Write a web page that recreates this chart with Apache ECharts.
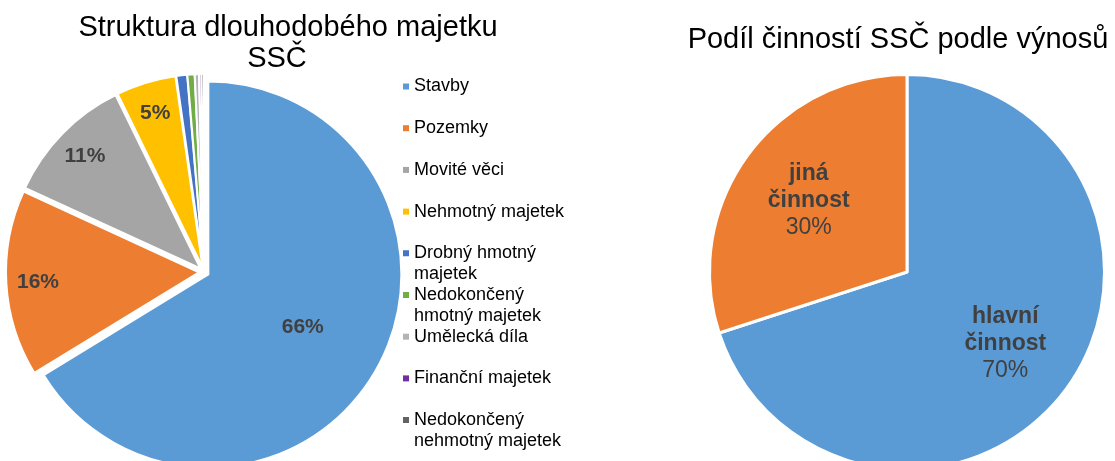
<!DOCTYPE html>
<html>
<head>
<meta charset="utf-8">
<script src="https://cdn.jsdelivr.net/npm/echarts@6/dist/echarts.min.js"></script>
<style>
html,body{margin:0;padding:0;background:#fff;}
#chart{width:1115px;height:461px;}
</style>
</head>
<body>
<div id="chart"></div>
<script>
// ---- data ----
const assetNames = ['Stavby', 'Pozemky', 'Movité věci', 'Nehmotný majetek', 'Drobný hmotný majetek',
  'Nedokončený hmotný majetek', 'Umělecká díla', 'Finanční majetek', 'Nedokončený nehmotný majetek'];
const assetShares = [66.3, 15.6, 10.9, 5.0, 0.9, 0.6, 0.35, 0.2, 0.2];
const assetLegendLabels = ['Stavby', 'Pozemky', 'Movité věci', 'Nehmotný majetek', 'Drobný hmotný\nmajetek',
  'Nedokončený\nhmotný majetek', 'Umělecká díla', 'Finanční majetek', 'Nedokončený\nnehmotný majetek'];
const assetColors = ['#5B9BD5', '#ED7D31', '#A5A5A5', '#FFC000', '#4472C4', '#70AD47', '#B4B4B4', '#7030A0', '#636363'];

const activityNames = ['hlavní činnost', 'jiná činnost'];
const activityShares = [70, 30];
const activityColors = ['#5B9BD5', '#ED7D31'];

const titleLeft1 = 'Struktura dlouhodobého majetku';
const titleLeft2 = 'SSČ';
const titleRight = 'Podíl činností SSČ podle výnosů';

// ---- layout ----
const FONT = "'Liberation Sans', Arial, sans-serif";
const leftCenter = [204, 272];
const leftR = 193;
const rightCenter = [907, 272];
const rightR = 197.5;
const explode = 5;

const chart = echarts.init(document.getElementById('chart'), null, {renderer: 'canvas'});

const assetData = assetNames.map((n, i) => ({
  name: n, value: assetShares[i], selected: true,
  itemStyle: {color: assetColors[i]}
}));
const assetLabelData = assetNames.map((n, i) => ({
  name: n, value: assetShares[i], selected: true
}));

const legends = assetNames.map((n, i) => {
  const wrapped = assetLegendLabels[i].indexOf('\n') >= 0;
  return {
    data: [n],
    orient: 'vertical',
    left: 403,
    top: 76 + i * 41.7,
    padding: 0,
    selectedMode: false,
    itemWidth: 6,
    itemHeight: wrapped ? 42 : 6,
    icon: wrapped ? 'path://M0,7.5h6v6h-6z M0,0h0.01v0.01h-0.01z M0,42h0.01v0.01h-0.01z' : 'rect',
    itemStyle: {borderWidth: 0},
    formatter: () => assetLegendLabels[i],
    textStyle: {fontFamily: FONT, fontSize: 18, lineHeight: 21, color: '#000'}
  };
});

const leftLabelCommon = {
  show: true, position: 'inside', fontFamily: FONT, fontSize: 21, fontWeight: 'bold', color: '#404040'
};

const option = {
  animation: false,
  backgroundColor: '#fff',
  title: [
    {text: titleLeft1, left: 288, top: 13, textAlign: 'center', padding: 0,
      textStyle: {fontFamily: FONT, fontSize: 29, fontWeight: 'normal', color: '#000'}},
    {text: titleLeft2, left: 277, top: 44, textAlign: 'center', padding: 0,
      textStyle: {fontFamily: FONT, fontSize: 29, fontWeight: 'normal', color: '#000'}},
    {text: titleRight, left: 898, top: 25, textAlign: 'center', padding: 0,
      textStyle: {fontFamily: FONT, fontSize: 29, fontWeight: 'normal', color: '#000'}}
  ],
  legend: legends,
  series: [
    {
      type: 'pie', name: 'majetek', center: leftCenter, radius: [0, leftR],
      startAngle: 90, clockwise: true, selectedMode: 'multiple', selectedOffset: explode,
      itemStyle: {borderColor: '#fff', borderWidth: 2},
      select: {itemStyle: {borderColor: '#fff', borderWidth: 2}, label: {show: false}},
      emphasis: {disabled: true},
      label: {show: false}, labelLine: {show: false},
      data: assetData
    },
    {
      // label ring for the large slice
      type: 'pie', name: 'majetekLabelA', center: leftCenter, radius: [leftR * 0.09, leftR],
      startAngle: 90, clockwise: true, selectedMode: 'multiple', selectedOffset: explode,
      silent: true, z: 5,
      itemStyle: {color: 'transparent', borderWidth: 0},
      select: {itemStyle: {color: 'transparent', borderWidth: 0}},
      emphasis: {disabled: true},
      labelLine: {show: false},
      label: Object.assign({}, leftLabelCommon, {
        formatter: p => p.dataIndex === 0 ? Math.round(p.percent) + '%' : ''
      }),
      data: assetLabelData
    },
    {
      // label ring for the other slices
      type: 'pie', name: 'majetekLabelB', center: leftCenter, radius: [leftR * 0.64, leftR],
      startAngle: 90, clockwise: true, selectedMode: 'multiple', selectedOffset: explode,
      silent: true, z: 5,
      itemStyle: {color: 'transparent', borderWidth: 0},
      select: {itemStyle: {color: 'transparent', borderWidth: 0}},
      emphasis: {disabled: true},
      labelLine: {show: false},
      label: Object.assign({}, leftLabelCommon, {
        formatter: p => (p.dataIndex > 0 && p.percent >= 2) ? Math.round(p.percent) + '%' : ''
      }),
      data: assetLabelData
    },
    {
      type: 'pie', name: 'cinnost', center: rightCenter, radius: [0, rightR],
      startAngle: 90, clockwise: true,
      itemStyle: {borderColor: '#fff', borderWidth: 3},
      emphasis: {disabled: true},
      label: {show: false}, labelLine: {show: false},
      data: activityNames.map((n, i) => ({name: n, value: activityShares[i], itemStyle: {color: activityColors[i]}}))
    },
    {
      type: 'pie', name: 'cinnostLabel', center: rightCenter, radius: [rightR * 0.2, rightR],
      startAngle: 90, clockwise: true, silent: true, z: 5,
      itemStyle: {color: 'transparent', borderWidth: 0},
      emphasis: {disabled: true},
      labelLine: {show: false},
      label: {
        show: true, position: 'inside',
        formatter: p => p.name.split(' ').map(w => '{n|' + w + '}').join('\n') + '\n{p|' + Math.round(p.percent) + '%}',
        rich: {
          n: {fontFamily: FONT, fontSize: 23, fontWeight: 'bold', color: '#404040', lineHeight: 27},
          p: {fontFamily: FONT, fontSize: 23, fontWeight: 'normal', color: '#404040', lineHeight: 27}
        }
      },
      data: activityNames.map((n, i) => ({name: n, value: activityShares[i]}))
    }
  ]
};
chart.setOption(option);
</script>
</body>
</html>
